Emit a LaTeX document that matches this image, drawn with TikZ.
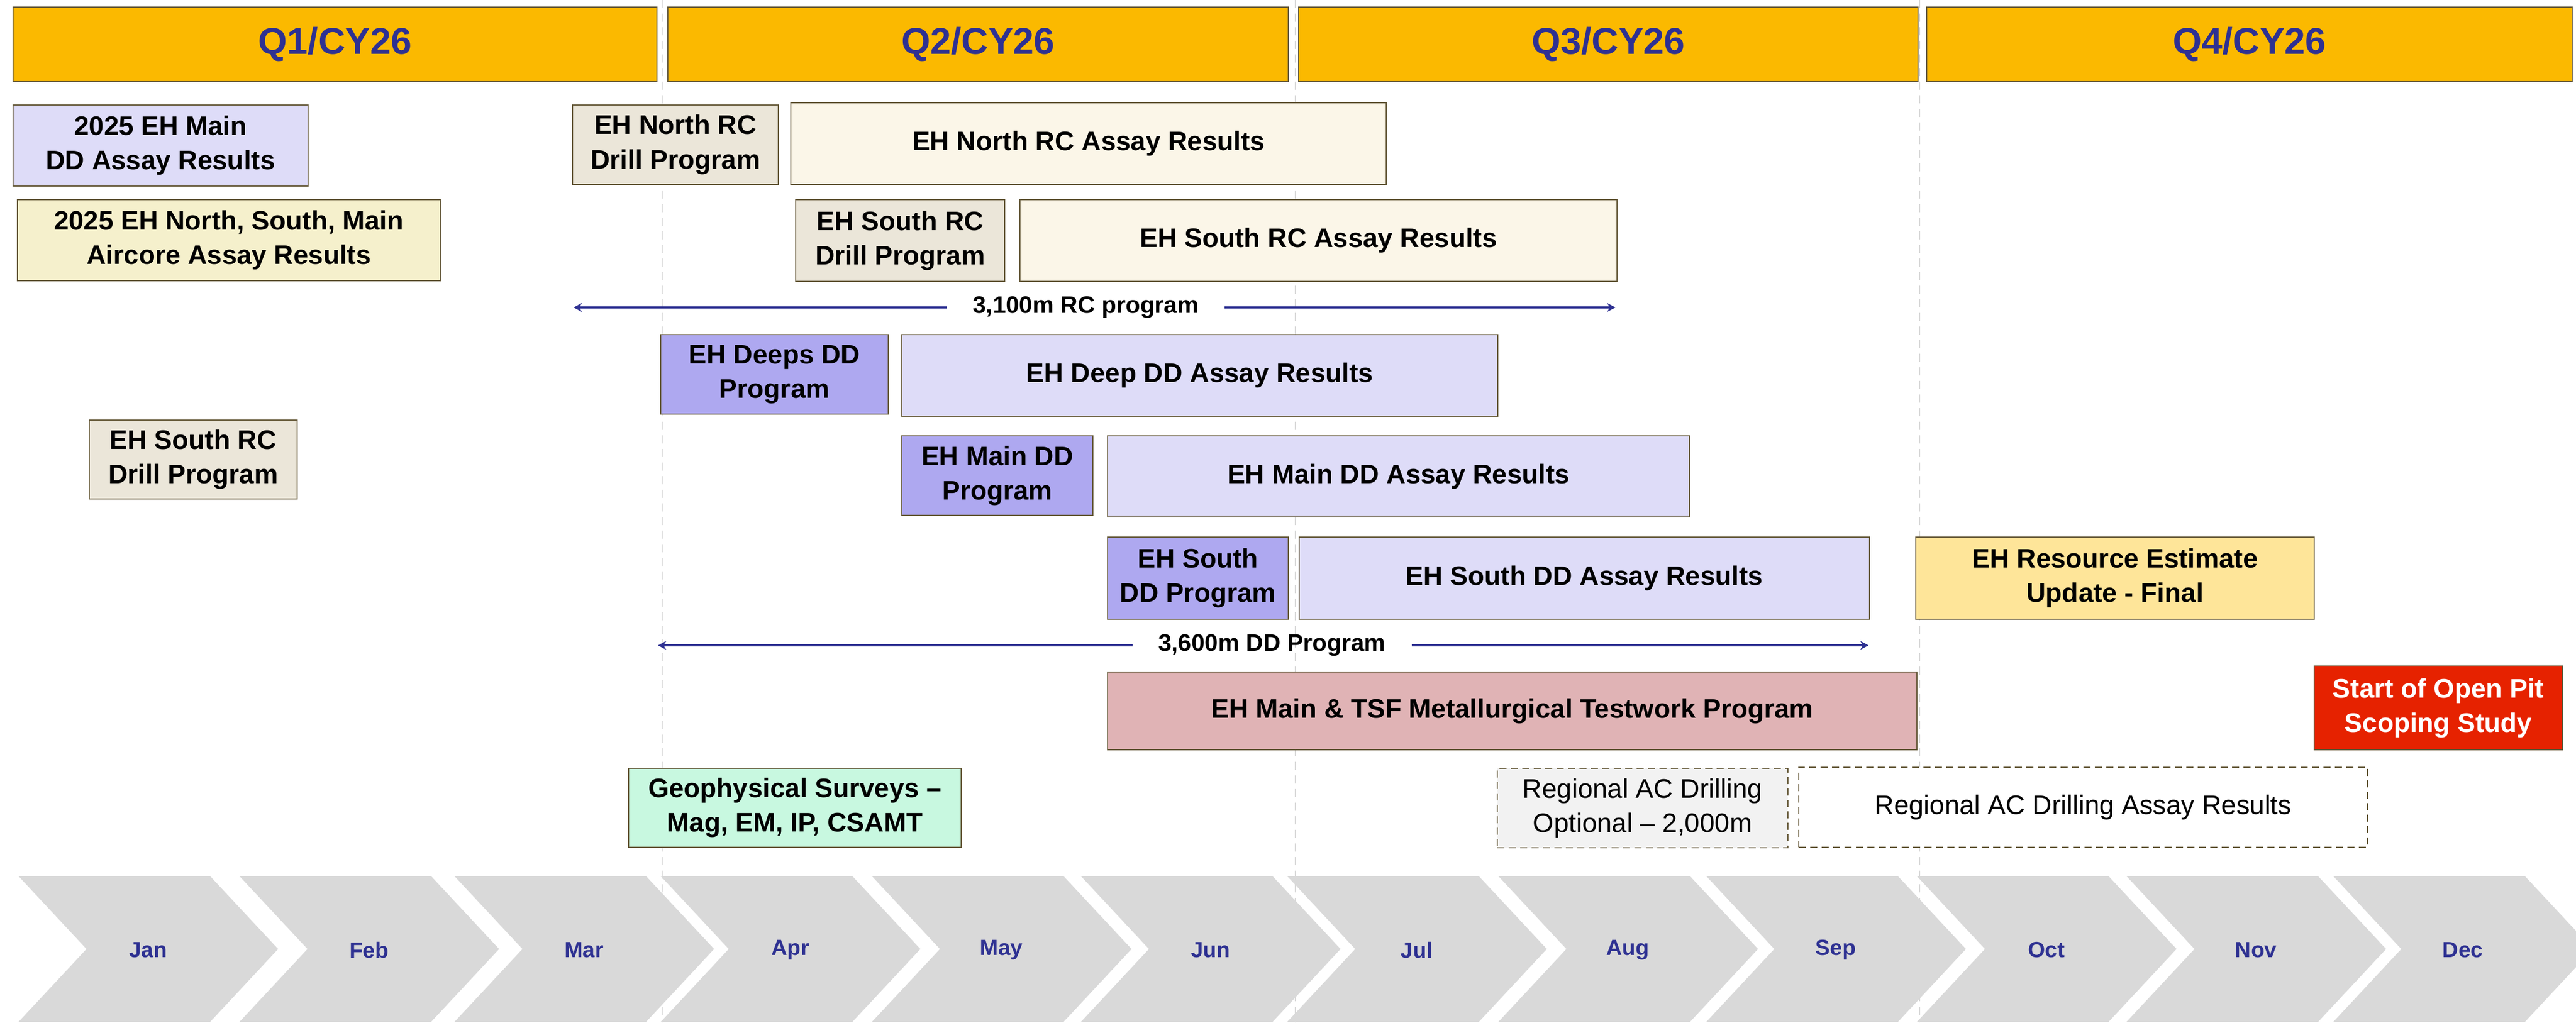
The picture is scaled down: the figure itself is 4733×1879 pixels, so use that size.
\documentclass[tikz,border=0pt]{standalone}
\usepackage{fontspec}
\setmainfont{Liberation Sans}
\usetikzlibrary{arrows.meta}

\definecolor{navy}{RGB}{46,49,146}
\definecolor{gold}{RGB}{251,185,0}
\definecolor{edge}{RGB}{102,90,58}
\definecolor{lavender}{RGB}{222,220,248}
\definecolor{violet}{RGB}{174,168,240}
\definecolor{beige}{RGB}{235,230,217}
\definecolor{cream}{RGB}{251,246,232}
\definecolor{paleyellow}{RGB}{245,240,204}
\definecolor{sand}{RGB}{254,229,153}
\definecolor{rose}{RGB}{224,179,181}
\definecolor{mint}{RGB}{200,248,224}
\definecolor{scarlet}{RGB}{230,34,0}
\definecolor{chev}{RGB}{217,217,217}
\definecolor{optgrey}{RGB}{242,242,242}

\begin{document}
\begin{tikzpicture}[ x=0.1mm, y=-0.1mm, >={Stealth[length=1.5mm,width=1.6mm]},
    box/.style={draw=edge, line width=0.8pt, align=center, inner sep=0pt,
        font=\fontsize{14}{18}\selectfont\bfseries},
    qtr/.style={box, fill=gold, text=navy, minimum height=13.7mm,
        font=\fontsize{19.5}{24}\selectfont\bfseries},
    optbox/.style={box, dash pattern=on 1.3mm off 0.8mm,
        font=\fontsize{14}{18}\selectfont},
    spanlbl/.style={inner xsep=4.7mm, inner ysep=0pt,
        font=\fontsize{12.5}{15}\selectfont\bfseries},
    spanline/.style={draw=navy, line width=0.9pt},
    month/.style={text=navy, font=\fontsize{11.5}{14}\selectfont\bfseries},
    guide/.style={draw=chev, line width=0.5pt, dash pattern=on 1.5mm off 1mm} ]

    \useasboundingbox (0,0) rectangle (4733,1879);

% Quarter guides

    \draw[guide] (1218,0) -- (1218,1879);
    \draw[guide] (2380,0) -- (2380,1879);
    \draw[guide] (3527,0) -- (3527,1879);

% Quarters

    \node[qtr, minimum width=118.3mm] (q1) at (615.5,81.5) {Q1/CY26};
    \node[qtr, minimum width=114.0mm] (q2) at (1797,81.5) {Q2/CY26};
    \node[qtr, minimum width=113.8mm] (q3) at (2955,81.5) {Q3/CY26};
    \node[qtr, minimum width=118.6mm] (q4) at (4133,81.5) {Q4/CY26};

% 2025 results

    \node[box, fill=lavender, minimum width=54.2mm, minimum height=14.9mm] (mainOld) at (295,267.5) {2025 EH Main\\DD Assay Results};
    \node[box, fill=paleyellow, minimum width=77.7mm, minimum height=14.9mm] (aircore) at (420.5,441.5) {2025 EH North, South, Main\\Aircore Assay Results};
    \node[box, fill=beige, minimum width=38.2mm, minimum height=14.5mm] (southEarly) at (355,844.5) {EH South RC\\Drill Program};

% RC program

    \node[box, fill=beige, minimum width=37.8mm, minimum height=14.6mm] (northRC) at (1241,266) {EH North RC\\Drill Program};
    \node[box, fill=cream, minimum width=109.4mm, minimum height=15mm] (northAssay) at (2000,264) {EH North RC Assay Results};
    \node[box, fill=beige, minimum width=38.4mm, minimum height=15mm] (southRC) at (1654,442) {EH South RC\\Drill Program};
    \node[box, fill=cream, minimum width=109.7mm, minimum height=15mm] (southAssay) at (2422.5,442) {EH South RC Assay Results};

    \coordinate (rcL) at (1054,565);
    \coordinate (rcR) at (2968,565);
    \node[spanlbl] (rcLbl) at (1995,565) {3,100m RC program};
    \draw[spanline, ->] (rcLbl) -- (rcL);
    \draw[spanline, ->] (rcLbl) -- (rcR);

% DD program

    \node[box, fill=violet, minimum width=41.8mm, minimum height=14.6mm] (deepsDD) at (1423,688) {EH Deeps DD\\Program};
    \node[box, fill=lavender, minimum width=109.5mm, minimum height=15mm] (deepAssay) at (2204.5,690) {EH Deep DD Assay Results};
    \node[box, fill=violet, minimum width=35.1mm, minimum height=14.6mm] (mainDD) at (1832.5,874) {EH Main DD\\Program};
    \node[box, fill=lavender, minimum width=106.9mm, minimum height=14.9mm] (mainAssay) at (2569.5,875.5) {EH Main DD Assay Results};
    \node[box, fill=violet, minimum width=33.2mm, minimum height=15.1mm] (southDD) at (2201,1062.5) {EH South\\DD Program};
    \node[box, fill=lavender, minimum width=104.8mm, minimum height=15.1mm] (southDDAssay) at (2911,1062.5) {EH South DD Assay Results};
    \node[box, fill=sand, minimum width=73.2mm, minimum height=15.1mm] (resource) at (3886,1062.5) {EH Resource Estimate\\Update - Final};

    \coordinate (ddL) at (1209,1186);
    \coordinate (ddR) at (3433,1186);
    \node[spanlbl] (ddLbl) at (2337,1186) {3,600m DD Program};
    \draw[spanline, ->] (ddLbl) -- (ddL);
    \draw[spanline, ->] (ddLbl) -- (ddR);

% Other work

    \node[box, fill=rose, minimum width=148.7mm, minimum height=14.3mm] (metWork) at (2778.5,1306.5) {EH Main \& TSF Metallurgical Testwork Program};
    \node[box, fill=scarlet, text=white, minimum width=45.6mm, minimum height=15.4mm] (openPit) at (4480,1301) {Start of Open Pit\\Scoping Study};
    \node[box, fill=mint, minimum width=61.1mm, minimum height=14.5mm] (geophys) at (1460.5,1484.5) {Geophysical Surveys --\\Mag, EM, IP, CSAMT};
    \node[optbox, fill=optgrey, minimum width=53.4mm, minimum height=14.6mm] (acDrill) at (3018,1485) {Regional AC Drilling\\Optional -- 2,000m};
    \node[optbox, fill=white, minimum width=104.5mm, minimum height=14.7mm] (acAssay) at (3827.5,1483.5) {Regional AC Drilling Assay Results};

% Months

    \foreach \l/\m [count=\i] in {34/Jan, 440/Feb, 835/Mar, 1214/Apr, 1602/May, 1986/Jun,
                                   2365/Jul, 2753/Aug, 3135/Sep, 3522/Oct, 3907/Nov, 4287/Dec} {
        \fill[chev] (\l,1610) -- ++(352,0) -- ++(125,134) -- ++(-125,134)
                    -- ++(-352,0) -- ++(125,-134) -- cycle;
        \node[month] (mon\i) at (\l+238,1746) {\m};
    }

\end{tikzpicture}
\end{document}
